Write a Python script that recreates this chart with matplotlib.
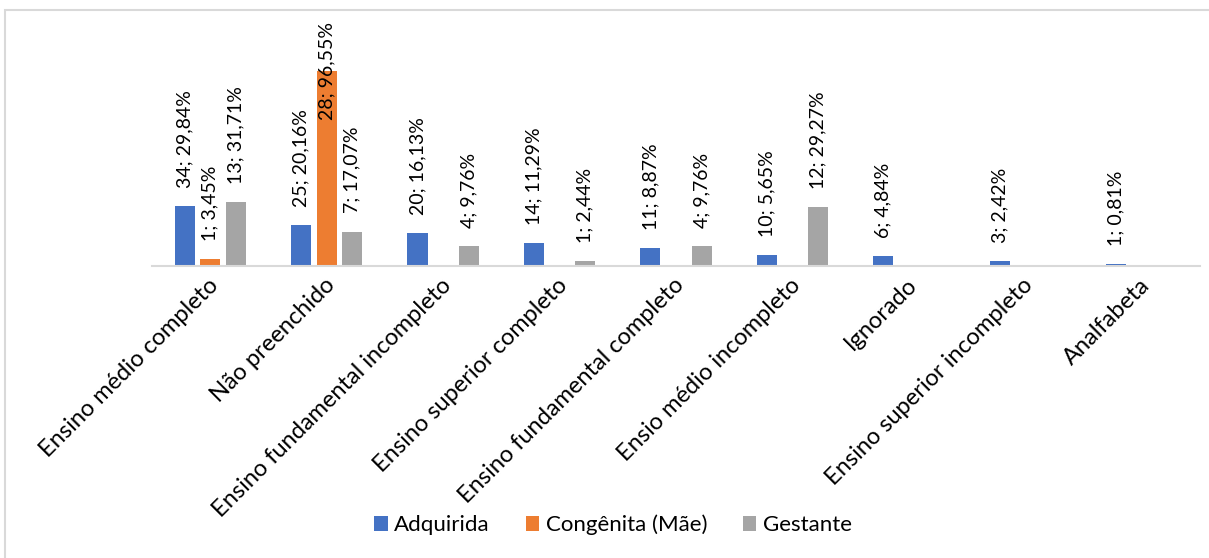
import numpy as np
import matplotlib
matplotlib.use("Agg")
import matplotlib.pyplot as plt
import matplotlib.transforms as mtransforms
from matplotlib.patches import Rectangle

plt.rcParams['font.family'] = ['Lato', 'DejaVu Sans']

categories = ['Ensino médio completo', 'Não preenchido', 'Ensino fundamental incompleto',
              'Ensino superior completo', 'Ensino fundamental completo', 'Ensio médio incompleto',
              'Ignorado', 'Ensino superior incompleto', 'Analfabeta']
series_names = ['Adquirida', 'Congênita (Mãe)', 'Gestante']
colors = ['#4472C4', '#ED7D31', '#A5A5A5']

adquirida_n = [34, 25, 20, 14, 11, 10, 6, 3, 1]
adquirida_pct = [29.84, 20.16, 16.13, 11.29, 8.87, 5.65, 4.84, 2.42, 0.81]
congenita_n = [1, 28, None, None, None, None, None, None, None]
congenita_pct = [3.45, 96.55, None, None, None, None, None, None, None]
gestante_n = [13, 7, 4, 1, 4, 12, None, None, None]
gestante_pct = [31.71, 17.07, 9.76, 2.44, 9.76, 29.27, None, None, None]

counts = [adquirida_n, congenita_n, gestante_n]
pcts = [adquirida_pct, congenita_pct, gestante_pct]

fig = plt.figure(figsize=(12.09, 5.58), dpi=100)
ax = fig.add_axes([152 / 1209, 1 - 266 / 558, 1048 / 1209, 256 / 558])
ymax = 256 / 2.02
ax.set_ylim(0, ymax)

x = np.arange(len(categories))
width = 0.172
step = 0.22

for i, (name, col) in enumerate(zip(series_names, colors)):
    vals = np.array([np.nan if v is None else v for v in pcts[i]], dtype=float)
    xs = x + (i - 1) * step
    ax.bar(xs, np.nan_to_num(vals), width=width, color=col, label=name)
    for xi, v, n in zip(xs, vals, counts[i]):
        if np.isnan(v):
            continue
        txt = f"{n}; {v:.2f}%".replace('.', ',')
        if v > 0.6 * ymax:
            # too tall for outside label: pin to top of the plot area
            ax.annotate(txt, (xi, ymax), xytext=(0, -9), textcoords='offset points',
                        rotation=90, ha='center', va='top', fontsize=14, annotation_clip=False)
        else:
            ax.annotate(txt, (xi, v), xytext=(0, 13), textcoords='offset points',
                        rotation=90, ha='center', va='bottom', fontsize=14)

ax.set_xlim(-0.5, len(categories) - 0.5)
ax.set_xticks(x)
ax.set_xticklabels(categories, rotation=45, ha='right', fontsize=17)
ax.tick_params(axis='x', length=0, pad=6)
shift = mtransforms.ScaledTranslation(12 / 100, 0, fig.dpi_scale_trans)
for lab in ax.get_xticklabels():
    lab.set_transform(lab.get_transform() + shift)
ax.set_yticks([])
for s in ['top', 'left', 'right']:
    ax.spines[s].set_visible(False)
ax.spines['bottom'].set_color('#D9D9D9')
ax.spines['bottom'].set_linewidth(1.5)

fig.legend(loc='center', bbox_to_anchor=(0.507, 0.059), ncol=3, frameon=False,
           fontsize=16, handlelength=0.6, handleheight=0.6, handletextpad=0.3, columnspacing=1.6)

fig.patches.append(Rectangle((5 / 1209, -0.1), 1.2, 1.1 - 10 / 558, transform=fig.transFigure,
                             fill=False, edgecolor='#D9D9D9', linewidth=1.5))

fig.savefig('out.png', dpi=100)
